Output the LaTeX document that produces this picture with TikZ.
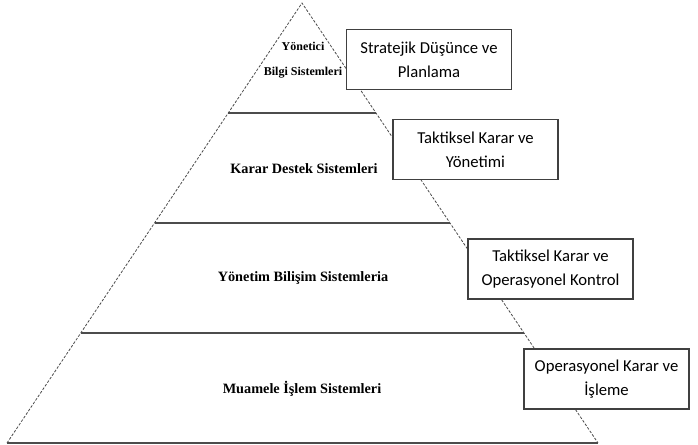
\documentclass[tikz,border=0pt]{standalone}
\usepackage{fontspec}
\usetikzlibrary{calc}
\newfontfamily\boxfont{Carlito}
\newfontfamily\tierfont{Liberation Serif}

\tikzset{
  edge/.style={gray!60!black, line width=0.6pt, dash pattern=on 2pt off 1.2pt},
  tierline/.style={gray!60!black, line width=1pt},
  levelbox/.style={draw=black!75, line width=1.1pt, fill=white, minimum width=124pt,
    minimum height=45pt, align=center, inner sep=0pt,
    font=\boxfont\fontsize{12.5}{18}\selectfont},
  tierlabel/.style={align=center, font=\tierfont\bfseries\fontsize{10.7}{14}\selectfont}
}

\begin{document}
\begin{tikzpicture}[x=0.75pt, y=-0.75pt]
  \useasboundingbox (0,0) rectangle (698,444);

  % pyramid
  \coordinate (top) at (302,3);
  \coordinate (bl) at (7,443);
  \coordinate (br) at (598,443);
  \draw[edge] (bl) -- (top) -- (br);
  \draw[tierline] (bl) -- (br);
  \foreach \t in {0.25,0.5,0.75} {
    \draw[tierline] ($(top)!\t!(bl)$) -- ($(top)!\t!(br)$);
  }

  % tier labels
  \node[tierlabel, font=\tierfont\bfseries\fontsize{9}{19}\selectfont] (ybs) at (303,60) {Yönetici\\Bilgi Sistemleri};
  \node[tierlabel] (kds) at (304,169) {Karar Destek Sistemleri};
  \node[tierlabel] (ybis) at (303,278) {Yönetim Bilişim Sistemleria};
  \node[tierlabel] (mis) at (302,389) {Muamele İşlem Sistemleri};

  % side boxes
  \node[levelbox] (stratbox) at (429,59.5) {Stratejik Düşünce ve\\Planlama};
  \node[levelbox] (taktbox) at (475.5,149.5) {Taktiksel Karar ve\\Yönetimi};
  \node[levelbox] (kontbox) at (550.5,269) {Taktiksel Karar ve\\Operasyonel Kontrol};
  \node[levelbox] (opbox) at (606.5,379) {Operasyonel Karar ve\\İşleme};
\end{tikzpicture}
\end{document}
